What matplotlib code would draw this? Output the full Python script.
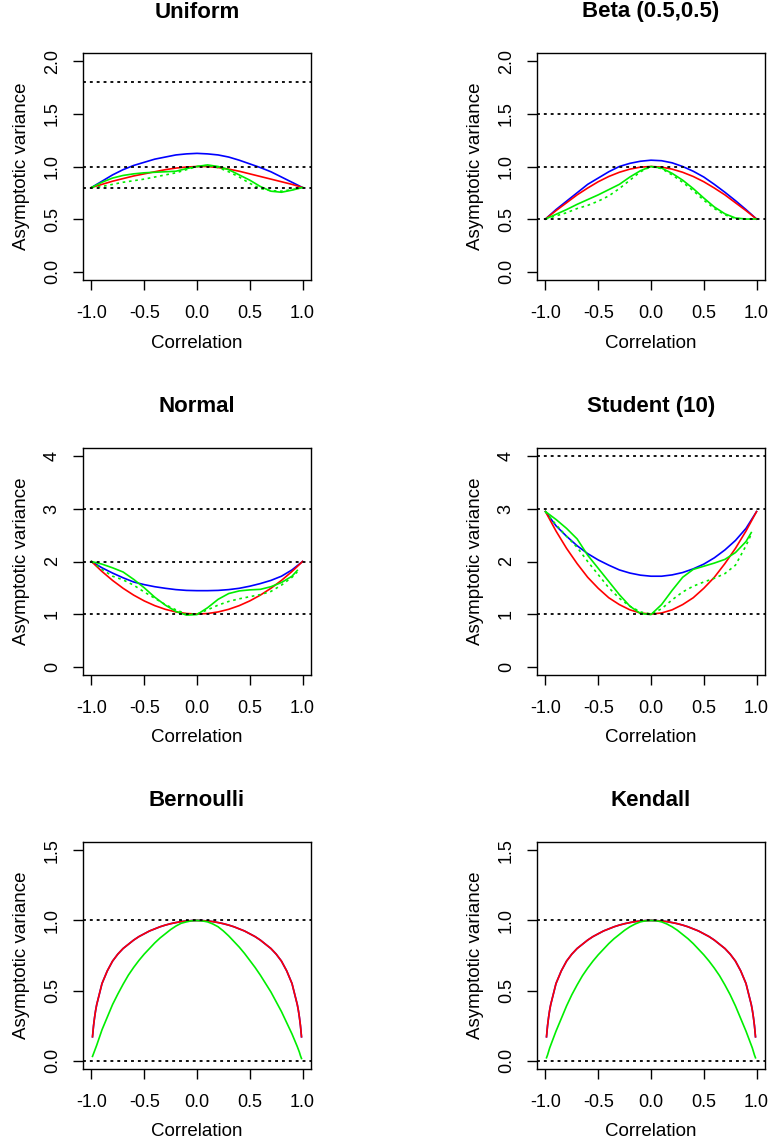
import matplotlib
matplotlib.use("Agg")
import matplotlib.pyplot as plt

plt.rcParams['font.family'] = ['Liberation Sans', 'DejaVu Sans']

# correlation grids
rho = [-1.0, -0.9, -0.8, -0.7, -0.6, -0.5, -0.4, -0.3, -0.2, -0.1, 0.0,
       0.1, 0.2, 0.3, 0.4, 0.5, 0.6, 0.7, 0.8, 0.9, 1.0]
rho_short = [-1.0, -0.9, -0.8, -0.7, -0.6, -0.5, -0.4, -0.3, -0.2, -0.1, 0.0,
             0.1, 0.2, 0.3, 0.4, 0.5, 0.6, 0.7, 0.8, 0.9, 0.95]
rho_fine = [-0.99, -0.98, -0.97, -0.96, -0.95, -0.9, -0.85, -0.8, -0.75, -0.7,
            -0.65, -0.6, -0.55, -0.5, -0.45, -0.4, -0.35, -0.3, -0.25, -0.2,
            -0.15, -0.1, -0.05, 0.0, 0.05, 0.1, 0.15, 0.2, 0.25, 0.3, 0.35,
            0.4, 0.45, 0.5, 0.55, 0.6, 0.65, 0.7, 0.75, 0.8, 0.85, 0.9, 0.95,
            0.96, 0.97, 0.98, 0.99]

# Uniform
unif_blue = [0.80, 0.86, 0.92, 0.97, 1.01, 1.04, 1.07, 1.09, 1.11, 1.12, 1.125,
             1.12, 1.11, 1.09, 1.06, 1.025, 0.99, 0.95, 0.90, 0.85, 0.80]
unif_red = [0.80, 0.83, 0.86, 0.885, 0.91, 0.93, 0.95, 0.97, 0.985, 0.995, 1.0,
            1.0, 0.99, 0.975, 0.955, 0.93, 0.905, 0.88, 0.855, 0.83, 0.80]
unif_green = [0.80, 0.85, 0.89, 0.915, 0.93, 0.94, 0.945, 0.95, 0.955, 0.98, 1.0,
              1.015, 1.0, 0.97, 0.92, 0.87, 0.81, 0.765, 0.755, 0.775, 0.80]
unif_green2 = [0.80, 0.81, 0.83, 0.85, 0.865, 0.88, 0.90, 0.92, 0.94, 0.97, 1.0,
               1.01, 0.99, 0.95, 0.90, 0.84, 0.79, 0.77, 0.765, 0.78, 0.80]
unif_h = [0.8, 1.0, 1.8]

# Beta (0.5,0.5)
beta_blue = [0.50, 0.59, 0.67, 0.75, 0.83, 0.89, 0.95, 1.00, 1.03, 1.05, 1.06,
             1.055, 1.035, 1.00, 0.955, 0.90, 0.83, 0.755, 0.675, 0.59, 0.50]
beta_red = [0.50, 0.58, 0.655, 0.73, 0.795, 0.855, 0.905, 0.945, 0.975, 0.994, 1.0,
            0.994, 0.975, 0.945, 0.905, 0.855, 0.795, 0.73, 0.655, 0.58, 0.50]
beta_green = [0.50, 0.545, 0.59, 0.64, 0.685, 0.73, 0.78, 0.83, 0.90, 0.96, 1.0,
              0.985, 0.935, 0.87, 0.79, 0.70, 0.615, 0.55, 0.51, 0.50, 0.50]
beta_green2 = [0.50, 0.53, 0.56, 0.60, 0.63, 0.67, 0.72, 0.79, 0.87, 0.95, 1.0,
               0.98, 0.92, 0.85, 0.77, 0.68, 0.60, 0.54, 0.505, 0.50, 0.50]
beta_h = [0.5, 1.0, 1.5]

# Normal
norm_blue = [2.0, 1.88, 1.78, 1.69, 1.61, 1.56, 1.52, 1.49, 1.465, 1.45, 1.445,
             1.445, 1.45, 1.465, 1.49, 1.53, 1.58, 1.64, 1.72, 1.84, 2.0]
norm_red = [2.0, 1.81, 1.64, 1.49, 1.36, 1.25, 1.16, 1.09, 1.04, 1.01, 1.0,
            1.01, 1.04, 1.09, 1.16, 1.25, 1.36, 1.49, 1.64, 1.81, 2.0]
norm_green = [2.0, 1.95, 1.88, 1.80, 1.66, 1.50, 1.32, 1.17, 1.05, 0.98, 0.99,
              1.12, 1.28, 1.39, 1.44, 1.46, 1.47, 1.52, 1.60, 1.72, 1.83]
norm_green2 = [2.0, 1.85, 1.72, 1.65, 1.55, 1.42, 1.30, 1.18, 1.08, 1.0, 1.0,
               1.08, 1.17, 1.24, 1.29, 1.33, 1.37, 1.43, 1.55, 1.70, 1.80]
norm_h = [1, 2, 3]

# Student (10)
stud_blue = [2.95, 2.68, 2.48, 2.30, 2.15, 2.03, 1.93, 1.84, 1.78, 1.74, 1.72,
             1.72, 1.745, 1.79, 1.86, 1.95, 2.07, 2.22, 2.40, 2.63, 2.95]
stud_red = [2.95, 2.58, 2.25, 1.96, 1.70, 1.49, 1.31, 1.18, 1.08, 1.02, 1.0,
            1.02, 1.08, 1.18, 1.31, 1.49, 1.70, 1.96, 2.25, 2.58, 2.95]
stud_green = [2.95, 2.80, 2.63, 2.43, 2.12, 1.87, 1.62, 1.37, 1.15, 1.01, 0.99,
              1.18, 1.45, 1.70, 1.85, 1.91, 1.97, 2.04, 2.17, 2.38, 2.55]
stud_green2 = [2.95, 2.70, 2.48, 2.27, 2.00, 1.75, 1.50, 1.30, 1.15, 1.04, 1.0,
               1.10, 1.27, 1.42, 1.53, 1.61, 1.68, 1.77, 1.93, 2.30, 2.52]
stud_h = [1, 3, 4]

# Bernoulli
bern_red = [0.17, 0.25, 0.31, 0.36, 0.40, 0.55, 0.64, 0.71, 0.76, 0.80,
            0.83, 0.86, 0.885, 0.905, 0.925, 0.94, 0.955, 0.967, 0.977, 0.985,
            0.992, 0.996, 0.999, 1.0, 0.999, 0.996, 0.992, 0.985, 0.977, 0.967, 0.955,
            0.94, 0.925, 0.905, 0.885, 0.86, 0.83, 0.80, 0.76, 0.71, 0.64, 0.55, 0.40,
            0.36, 0.31, 0.25, 0.17]
bern_green = [0.03, 0.05, 0.07, 0.09, 0.11, 0.22, 0.31, 0.40, 0.475, 0.545,
              0.61, 0.665, 0.715, 0.76, 0.80, 0.84, 0.875, 0.905, 0.935, 0.96,
              0.98, 0.99, 0.998, 1.0, 0.997, 0.99, 0.975, 0.955, 0.925, 0.89, 0.85,
              0.81, 0.765, 0.715, 0.665, 0.61, 0.55, 0.49, 0.42, 0.35, 0.27, 0.19, 0.10,
              0.08, 0.06, 0.035, 0.015]
bern_h = [0.0, 1.0]

# Kendall
kend_red = [0.17, 0.25, 0.31, 0.36, 0.40, 0.55, 0.64, 0.71, 0.76, 0.80,
            0.83, 0.86, 0.885, 0.905, 0.925, 0.94, 0.955, 0.967, 0.977, 0.985,
            0.992, 0.996, 0.999, 1.0, 0.999, 0.996, 0.992, 0.985, 0.977, 0.967, 0.955,
            0.94, 0.925, 0.905, 0.885, 0.86, 0.83, 0.80, 0.76, 0.71, 0.64, 0.55, 0.40,
            0.36, 0.31, 0.25, 0.17]
kend_green = [0.02, 0.04, 0.065, 0.09, 0.11, 0.21, 0.30, 0.39, 0.47, 0.54,
              0.605, 0.66, 0.71, 0.755, 0.795, 0.835, 0.87, 0.90, 0.93, 0.955,
              0.975, 0.99, 0.998, 1.0, 0.998, 0.99, 0.975, 0.955, 0.93, 0.90, 0.87,
              0.835, 0.795, 0.755, 0.71, 0.66, 0.605, 0.54, 0.47, 0.39, 0.30, 0.21, 0.11,
              0.09, 0.065, 0.04, 0.02]
kend_h = [0.0, 1.0]

titles = ["Uniform", "Beta (0.5,0.5)", "Normal", "Student (10)", "Bernoulli", "Kendall"]
xticks = [-1.0, -0.5, 0.0, 0.5, 1.0]
yticks_a = [0.0, 0.5, 1.0, 1.5, 2.0]
yticks_b = [0, 1, 2, 3, 4]
yticks_c = [0.0, 0.5, 1.0, 1.5]

W, H = 770, 1147
fig = plt.figure(figsize=(W / 100, H / 100), dpi=100)

lefts = [83, 537]
tops = [53, 448, 842]
bw, bh = 228, 227

blue, red, green = "#0000FF", "#FF0000", "#00EE00"
dot = (0, (1.6, 2.2))


def panel(k, title, curves, hlines, yticks, ylim, fmt):
    r, c = divmod(k, 2)
    ax = fig.add_axes([lefts[c] / W, 1 - (tops[r] + bh) / H, bw / W, bh / H])
    for xs, ys, col, ls in curves:
        ax.plot(xs, ys, color=col, lw=1.2, ls=ls)
    for h in hlines:
        ax.axhline(h, color="black", lw=1.3, ls=dot, zorder=5)
    ax.set_xlim(-1.08, 1.08)
    ax.set_ylim(*ylim)
    ax.set_xticks(xticks)
    ax.set_xticklabels(["%.1f" % v for v in xticks])
    ax.set_yticks(yticks)
    ax.set_yticklabels([fmt % v for v in yticks], rotation=90, va="center")
    ax.tick_params(direction="out", length=7, width=1.0, labelsize=13)
    ax.tick_params(axis="x", pad=11)
    ax.tick_params(axis="y", pad=9)
    for s in ax.spines.values():
        s.set_linewidth(1.0)
    ax.text(0.5, 1 + 41 / bh, title, transform=ax.transAxes, ha="center",
            va="center", fontsize=16, fontweight="bold")
    ax.text(0.5, -63 / bh, "Correlation", transform=ax.transAxes, ha="center",
            va="center", fontsize=13.5)
    ax.text(-61 / bw, 0.5, "Asymptotic variance", transform=ax.transAxes,
            ha="center", va="center", rotation=90, fontsize=13.5)
    return ax


panel(0, titles[0],
      [(rho, unif_blue, blue, "-"), (rho, unif_red, red, "-"),
       (rho, unif_green, green, "-"), (rho, unif_green2, green, dot)],
      unif_h, yticks_a, (-0.08, 2.08), "%.1f")
panel(1, titles[1],
      [(rho, beta_blue, blue, "-"), (rho, beta_red, red, "-"),
       (rho, beta_green, green, "-"), (rho, beta_green2, green, dot)],
      beta_h, yticks_a, (-0.08, 2.08), "%.1f")
panel(2, titles[2],
      [(rho, norm_blue, blue, "-"), (rho, norm_red, red, "-"),
       (rho_short, norm_green, green, "-"), (rho_short, norm_green2, green, dot)],
      norm_h, yticks_b, (-0.16, 4.16), "%d")
panel(3, titles[3],
      [(rho, stud_blue, blue, "-"), (rho, stud_red, red, "-"),
       (rho_short, stud_green, green, "-"), (rho_short, stud_green2, green, dot)],
      stud_h, yticks_b, (-0.16, 4.16), "%d")
panel(4, titles[4],
      [(rho_fine, bern_red, blue, "-"), (rho_fine, bern_red, red, "-"),
       (rho_fine, bern_green, green, "-")],
      bern_h, yticks_c, (-0.06, 1.56), "%.1f")
panel(5, titles[5],
      [(rho_fine, kend_red, blue, "-"), (rho_fine, kend_red, red, "-"),
       (rho_fine, kend_green, green, "-")],
      kend_h, yticks_c, (-0.06, 1.56), "%.1f")

fig.savefig("out.png", dpi=100)
